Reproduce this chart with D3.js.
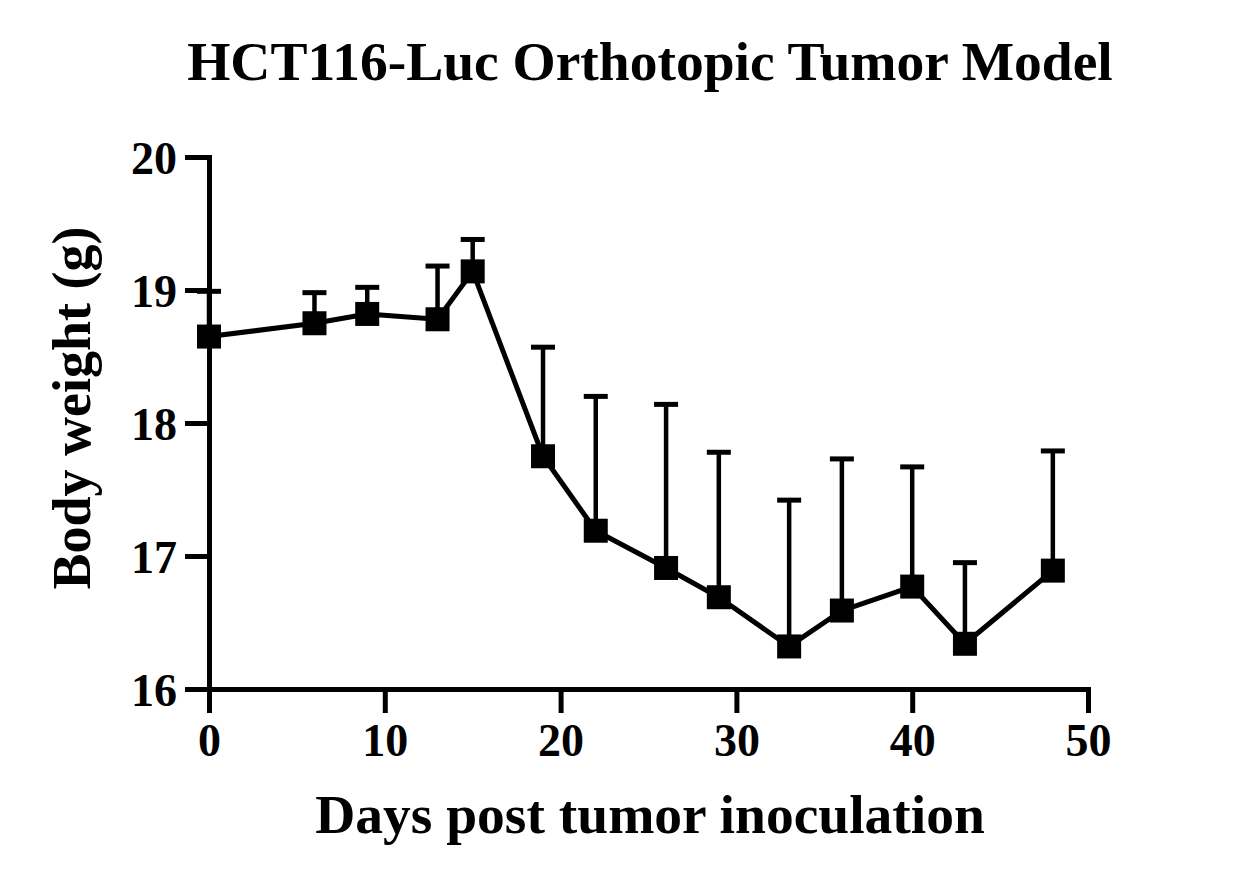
<!DOCTYPE html>
<html>
<head>
  <meta charset="utf-8">
  <title>HCT116-Luc Orthotopic Tumor Model</title>
  <script src="https://cdn.jsdelivr.net/npm/d3@7"></script>
  <style>
  body {
    margin: 0;
    background: #fff;
  }
  text {
    font-family: "Liberation Serif", "Times New Roman", "DejaVu Serif", serif;
    font-weight: bold;
    fill: #000;
  }
  .axis path, .axis line {
    stroke: #000;
    stroke-width: 5px;
  }
  .axis text {
    font-size: 46px;
  }
  </style>
</head>
<body>
<script>
// Data: day, mean body weight (g), upper SD
var days = [0, 6, 9, 13, 15, 19, 22, 26, 29, 33, 36, 40, 43, 48];
var meanWeight = [18.65, 18.75, 18.82, 18.78, 19.14, 17.75, 17.19, 16.91, 16.69, 16.32, 16.59, 16.77, 16.34, 16.89];
var sdWeight = [0.34, 0.23, 0.20, 0.40, 0.24, 0.82, 1.01, 1.23, 1.09, 1.10, 1.14, 0.90, 0.61, 0.90];
var xTicks = [0, 10, 20, 30, 40, 50];
var yTicks = [16, 17, 18, 19, 20];

var width = 1238, height = 885;

var svg = d3.select("body").append("svg")
    .attr("width", width)
    .attr("height", height);

var x = d3.scaleLinear().domain([0, 50]).range([209, 1088]);
var y = d3.scaleLinear().domain([16, 20]).range([689, 157]);

var points = days.map(function(d, i) {
  return { day: d, mean: meanWeight[i], sd: sdWeight[i] };
});

// axes
var yAxis = svg.append("g")
    .attr("class", "axis")
    .attr("transform", "translate(" + x(0) + ",0)")
    .call(d3.axisLeft(y).tickValues(yTicks).tickFormat(d3.format("d"))
      .tickSize(24).tickSizeOuter(0).tickPadding(8));
yAxis.selectAll("text").attr("dy", "0.35em");

var xAxis = svg.append("g")
    .attr("class", "axis")
    .attr("transform", "translate(0," + y(16) + ")")
    .call(d3.axisBottom(x).tickValues(xTicks).tickFormat(d3.format("d"))
      .tickSize(24).tickSizeOuter(0).tickPadding(10));
xAxis.selectAll("text").attr("dy", "0.71em");
svg.selectAll(".axis .domain").attr("stroke-linecap", "square");

// error bars (upper only)
var bars = svg.append("g").selectAll("g")
    .data(points)
    .enter().append("g");

bars.append("line")
    .attr("x1", function(d) { return x(d.day); })
    .attr("x2", function(d) { return x(d.day); })
    .attr("y1", function(d) { return y(d.mean); })
    .attr("y2", function(d) { return y(d.mean + d.sd); })
    .attr("stroke", "#000")
    .attr("stroke-width", 4.5);

bars.append("line")
    .attr("x1", function(d) { return x(d.day) - 12; })
    .attr("x2", function(d) { return x(d.day) + 12; })
    .attr("y1", function(d) { return y(d.mean + d.sd); })
    .attr("y2", function(d) { return y(d.mean + d.sd); })
    .attr("stroke", "#000")
    .attr("stroke-width", 5);

// mean line
var line = d3.line()
    .x(function(d) { return x(d.day); })
    .y(function(d) { return y(d.mean); });

svg.append("path")
    .datum(points)
    .attr("d", line)
    .attr("fill", "none")
    .attr("stroke", "#000")
    .attr("stroke-width", 5)
    .attr("stroke-linejoin", "round");

// square markers
var size = 24;
svg.append("g").selectAll("rect")
    .data(points)
    .enter().append("rect")
    .attr("x", function(d) { return x(d.day) - size / 2; })
    .attr("y", function(d) { return y(d.mean) - size / 2; })
    .attr("width", size)
    .attr("height", size)
    .attr("fill", "#000");

// title and axis labels
svg.append("text")
    .attr("x", 650)
    .attr("y", 80)
    .attr("text-anchor", "middle")
    .style("font-size", "55.5px")
    .text("HCT116-Luc Orthotopic Tumor Model");

svg.append("text")
    .attr("x", 650)
    .attr("y", 833)
    .attr("text-anchor", "middle")
    .style("font-size", "55.5px")
    .text("Days post tumor inoculation");

svg.append("text")
    .attr("transform", "translate(90,408) rotate(-90)")
    .attr("text-anchor", "middle")
    .style("font-size", "54px")
    .text("Body weight (g)");
</script>
</body>
</html>
